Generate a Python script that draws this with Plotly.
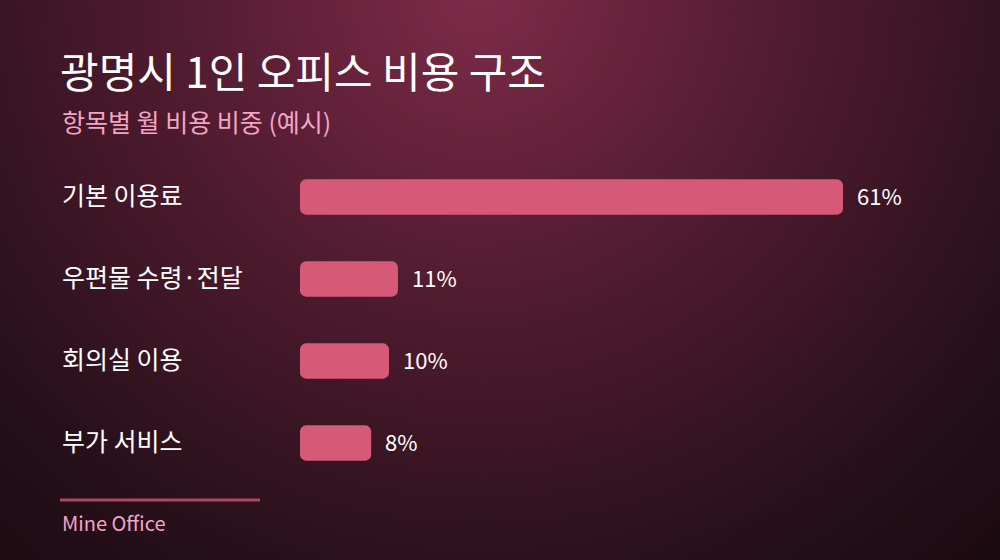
import base64

import plotly.graph_objects as go

categories = ["기본 이용료", "우편물 수령·전달", "회의실 이용", "부가 서비스"]
shares = [61, 11, 10, 8]
title = "광명시 1인 오피스 비용 구조"
subtitle = "항목별 월 비용 비중 (예시)"
source = "Mine Office"

W, H = 1000, 560
FONT = "Noto Sans CJK KR, Noto Sans, sans-serif"
BAR = "#d65a78"
PINK = "#f2a5c4"

# radial background, drawn as an svg behind the plot
svg = f"""<svg xmlns='http://www.w3.org/2000/svg' width='{W}' height='{H}'>
<defs><radialGradient id='g' gradientUnits='userSpaceOnUse' cx='480' cy='-10' r='760'>
<stop offset='0' stop-color='#7e2b48'/>
<stop offset='0.45' stop-color='#4c1a2d'/>
<stop offset='0.8' stop-color='#27101a'/>
<stop offset='1' stop-color='#1c0a11'/>
</radialGradient></defs>
<rect width='{W}' height='{H}' fill='url(#g)'/></svg>"""
bg = "data:image/svg+xml;base64," + base64.b64encode(svg.encode()).decode()

fig = go.Figure()
# an explicit base makes plotly round both ends of the bar
fig.add_trace(go.Bar(
    x=shares, y=categories, base=[0] * len(shares), orientation="h",
    marker={"color": BAR, "cornerradius": 6, "line": {"width": 0}},
    hoverinfo="skip",
))

# value labels next to the bar ends, category names on the left
for cat, val in zip(categories, shares):
    fig.add_annotation(x=val, y=cat, xref="x", yref="y", text=f"{val}%", showarrow=False,
                       xanchor="left", xshift=12, yshift=2, font={"size": 22, "color": "#ffffff", "family": FONT})
    fig.add_annotation(x=0.06, y=cat, xref="paper", yref="y", text=cat, showarrow=False,
                       xanchor="left", yshift=3, font={"size": 25, "color": "#ffffff", "family": FONT})

fig.add_annotation(x=0.058, y=1 - 69 / H, xref="paper", yref="paper", text=title, showarrow=False,
                   xanchor="left", yanchor="middle", font={"size": 42, "color": "#ffffff", "family": FONT})
fig.add_annotation(x=0.06, y=1 - 121 / H, xref="paper", yref="paper", text=subtitle, showarrow=False,
                   xanchor="left", yanchor="middle", font={"size": 25, "color": PINK, "family": FONT})
fig.add_annotation(x=0.06, y=1 - 522 / H, xref="paper", yref="paper", text=source, showarrow=False,
                   xanchor="left", yanchor="middle", font={"size": 20, "color": PINK, "family": FONT})
fig.add_shape(type="line", xref="paper", yref="paper", x0=0.06, x1=0.26, y0=1 - 500 / H, y1=1 - 500 / H,
              line={"color": "#b04566", "width": 3})

fig.update_layout(
    width=W, height=H,
    margin={"l": 0, "r": 0, "t": 0, "b": 0},
    paper_bgcolor="#1c0a11", plot_bgcolor="rgba(0,0,0,0)",
    showlegend=False, bargap=0.57,
    images=[{"source": bg, "xref": "paper", "yref": "paper", "x": 0, "y": 1, "sizex": 1, "sizey": 1,
             "xanchor": "left", "yanchor": "top", "sizing": "stretch", "layer": "below"}],
    xaxis={"domain": [0.3, 1.0], "range": [0, 61 * 700 / 543], "visible": False, "fixedrange": True},
    yaxis={"domain": [76 / H, 1 - 156 / H], "autorange": "reversed", "visible": False, "fixedrange": True},
)

fig.write_html("out.html", config={"displayModeBar": False},
               post_script="document.body.style.margin='0';")
